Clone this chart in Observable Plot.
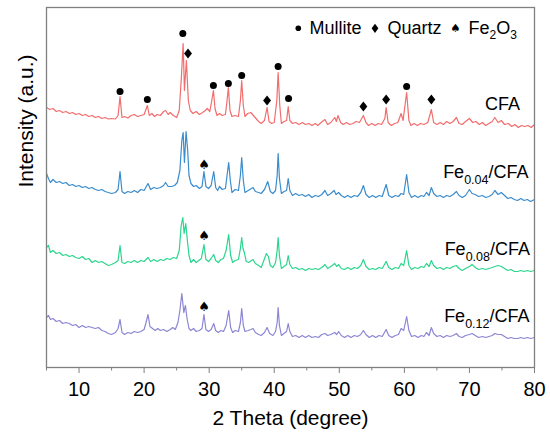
<!DOCTYPE html>
<html><head><meta charset="utf-8">
<script src="https://cdn.jsdelivr.net/npm/d3@7"></script>
<script src="https://cdn.jsdelivr.net/npm/@observablehq/plot@0.6"></script>
<style>body{margin:0;background:#fff} #chart{width:550px;height:442px}</style>
</head><body><div id="chart"></div>
<script>
// ---- data: [2theta (deg), intensity (a.u., stacked offset)] ----
const cfa = [[5.0,261],[5.5,259],[6.0,260],[6.5,257],[7.0,258],[7.5,256],[8.0,257],[8.5,255],[9.0,256],[9.5,254],[10.0,255],[10.5,253],[11.0,254],[11.5,252],[12.0,253],[12.5,251],[13.0,252],[13.5,250],[14.0,251],[14.5,249.5],[15.0,250],[15.6,249.5],[16.0,253],[16.3,272],[16.6,251],[17.0,252],[17.5,250.5],[18.0,253],[18.5,254],[19.0,252],[19.5,253],[20.0,254],[20.5,263],[20.8,253],[21.2,255],[21.6,252],[22.0,254],[22.5,253],[23.0,257],[23.3,258],[23.7,254],[24.0,256],[24.5,253],[25.0,251],[25.4,258],[25.7,288],[26.0,325],[26.2,278],[26.5,308],[26.8,268],[27.1,258],[27.5,255],[28.0,257],[28.5,254],[29.0,256],[29.4,258],[29.7,260],[30.1,257],[30.4,268],[30.65,278],[30.9,260],[31.2,253],[31.6,255],[32.0,253],[32.5,254],[32.75,268],[32.95,281],[33.2,258],[33.5,252],[34.0,253],[34.5,252],[34.8,268],[35.0,288],[35.25,263],[35.5,252],[35.9,255],[36.4,256],[36.8,253],[37.2,250],[37.6,247],[38.0,245],[38.5,248],[38.9,261],[39.2,247],[39.6,245],[40.0,246],[40.4,268],[40.6,296],[40.85,263],[41.1,245],[41.5,247],[41.9,248],[42.15,262],[42.4,248],[42.8,245],[43.3,246],[43.8,244],[44.3,246],[44.8,244],[45.3,245],[45.8,243],[46.3,245],[46.7,243],[47.2,246],[47.8,249],[48.2,244],[48.7,246],[49.3,251],[49.55,247],[49.8,253],[50.2,246],[50.6,244],[51.1,246],[51.6,244],[52.1,245],[52.6,247],[53.1,246],[53.7,253],[54.1,246],[54.5,243],[55.0,245],[55.5,243],[56.0,245],[56.5,244],[57.0,250],[57.2,261],[57.5,246],[58.0,243],[58.5,245],[59.0,246],[59.5,255],[59.8,248],[60.35,276],[60.7,248],[61.0,243],[61.5,245],[62.0,243],[62.5,245],[63.0,244],[63.6,246],[64.15,259],[64.5,246],[65.0,244],[65.5,246],[66.0,244],[66.5,247],[67.0,245],[67.5,247],[68.0,251],[68.4,245],[68.9,244],[69.4,247],[70.0,250],[70.5,246],[71.0,247],[71.5,244],[72.0,246],[72.5,243],[73.0,245],[73.5,247],[73.9,251],[74.4,246],[74.9,248],[75.4,244],[76.0,245],[76.5,242],[77.0,244],[77.5,241],[78.0,243],[78.5,242],[79.0,243],[79.5,241],[80.0,244]];

const fe004 = [[5.0,195],[5.3,190],[5.6,186],[6.0,189],[6.5,186],[7.0,187],[7.5,185],[8.0,186],[8.5,183],[9.0,184],[9.5,182],[10.0,183],[10.5,181],[11.0,182],[11.5,180],[12.0,181],[12.5,179],[13.0,178],[13.5,179],[14.0,177],[14.5,176],[15.0,175],[15.6,176],[16.0,179],[16.3,197],[16.6,177],[17.0,175],[17.5,177],[18.0,176],[18.5,178],[19.0,176],[19.5,179],[20.0,178],[20.6,185],[21.0,179],[21.5,181],[22.0,180],[22.5,181],[23.0,183],[23.3,186],[23.7,182],[24.2,182],[24.7,183],[25.1,186],[25.5,198],[25.8,228],[26.0,236],[26.2,206],[26.45,237],[26.7,218],[26.9,193],[27.2,185],[27.6,182],[28.0,183],[28.5,180],[28.9,182],[29.2,197],[29.5,182],[29.9,180],[30.3,183],[30.7,197],[31.0,181],[31.3,178],[31.6,182],[32.0,179],[32.5,180],[32.75,193],[33.0,206],[33.25,188],[33.5,176],[34.0,179],[34.5,178],[34.8,193],[35.0,211],[35.25,188],[35.5,176],[36.0,178],[36.5,180],[36.75,181],[37.1,177],[37.6,176],[38.0,175],[38.5,179],[39.0,187],[39.4,177],[39.8,175],[40.2,178],[40.45,193],[40.6,215],[40.8,190],[41.1,175],[41.5,177],[41.9,178],[42.15,190],[42.4,178],[42.8,173],[43.3,175],[43.8,173],[44.3,174],[44.8,172],[45.3,174],[45.8,171],[46.3,173],[46.8,172],[47.3,174],[47.8,178],[48.2,173],[48.7,175],[49.2,178],[49.5,174],[49.9,176],[50.3,173],[50.8,171],[51.3,173],[51.8,171],[52.3,173],[52.8,172],[53.3,176],[53.7,183],[54.1,174],[54.6,171],[55.1,173],[55.6,171],[56.1,173],[56.6,172],[57.2,184],[57.6,173],[58.1,171],[58.6,173],[59.1,172],[59.5,175],[59.9,174],[60.35,194],[60.7,176],[61.1,171],[61.6,173],[62.1,171],[62.6,173],[63.0,172],[63.4,176],[63.8,173],[64.15,181],[64.5,175],[65.0,172],[65.5,173],[66.0,171],[66.5,173],[67.0,172],[67.5,174],[68.0,177],[68.4,173],[68.9,171],[69.4,173],[70.0,179],[70.4,175],[70.9,174],[71.4,172],[72.0,173],[72.5,171],[73.0,172],[73.5,174],[73.9,178],[74.4,174],[74.9,176],[75.4,173],[75.9,170],[76.4,171],[76.9,169],[77.4,168],[77.9,170],[78.4,168],[78.9,169],[79.4,167],[80.0,169]];

const fe008 = [[5.0,121],[5.3,123],[5.6,116],[6.0,118],[6.5,115],[7.0,116],[7.5,113],[8.0,114],[8.5,112],[9.0,113],[9.5,111],[10.0,110],[10.5,112],[11.0,109],[11.5,110],[12.0,106],[12.5,108],[13.0,106],[13.5,107],[14.0,105],[14.5,103],[15.0,104],[15.6,106],[16.0,108],[16.3,123],[16.6,106],[17.0,105],[17.5,107],[18.0,106],[18.5,108],[19.0,106],[19.5,108],[20.0,107],[20.6,111],[21.0,107],[21.5,109],[22.0,107],[22.5,109],[23.0,108],[23.5,110],[24.0,109],[24.5,111],[25.0,110],[25.4,118],[25.7,143],[25.95,151],[26.15,135],[26.4,145],[26.65,128],[26.9,113],[27.2,106],[27.6,109],[28.0,106],[28.4,108],[28.8,110],[29.2,124],[29.5,109],[29.9,107],[30.3,110],[30.7,114],[31.0,108],[31.4,106],[31.8,109],[32.2,110],[32.6,118],[33.0,134],[33.3,113],[33.6,106],[34.0,108],[34.5,109],[34.8,120],[35.0,131],[35.2,120],[35.4,116],[35.7,107],[36.1,106],[36.5,108],[36.75,109],[37.1,105],[37.6,103],[38.0,101],[38.4,108],[38.8,115],[39.1,112],[39.4,103],[39.8,101],[40.2,106],[40.45,118],[40.6,131],[40.8,113],[41.1,100],[41.5,102],[41.9,104],[42.15,113],[42.4,104],[42.8,100],[43.3,101],[43.8,99],[44.3,100],[44.8,98],[45.3,100],[45.8,99],[46.3,100],[46.8,99],[47.3,101],[47.8,104],[48.2,100],[48.7,102],[49.3,105],[49.6,102],[49.9,104],[50.3,100],[50.8,99],[51.3,101],[51.8,99],[52.3,101],[52.8,100],[53.3,103],[53.7,109],[54.1,102],[54.6,99],[55.1,100],[55.6,99],[56.1,101],[56.6,100],[57.2,107],[57.6,101],[58.1,99],[58.6,101],[59.1,100],[59.5,105],[59.9,103],[60.35,118],[60.7,103],[61.1,99],[61.6,101],[62.1,100],[62.6,102],[63.0,101],[63.4,105],[63.8,102],[64.15,108],[64.5,103],[65.0,100],[65.5,101],[66.0,99],[66.5,101],[67.0,100],[67.5,102],[68.0,103],[68.4,100],[68.9,98],[69.4,100],[70.0,102],[70.4,104],[70.9,101],[71.4,99],[72.0,100],[72.5,99],[73.0,100],[73.5,101],[73.9,102],[74.4,103],[74.9,102],[75.4,100],[75.9,98],[76.4,99],[76.9,97],[77.4,97],[77.9,98],[78.4,97],[78.9,98],[79.4,97],[80.0,98]];

const fe012 = [[5.0,51],[5.3,53],[5.6,49],[6.0,50],[6.5,47],[7.0,48],[7.5,45],[8.0,46],[8.5,45],[9.0,43],[9.5,44],[10.0,41],[10.5,43],[11.0,41],[11.5,42],[12.0,41],[12.5,40],[13.0,41],[13.5,38],[14.0,37],[14.5,35],[15.0,34],[15.6,36],[16.0,40],[16.3,49],[16.6,36],[17.0,34],[17.5,36],[18.0,35],[18.5,37],[19.0,36],[19.5,37],[20.0,39],[20.3,46],[20.6,54],[20.9,42],[21.3,40],[21.7,38],[22.1,40],[22.5,38],[23.0,39],[23.5,37],[24.0,39],[24.4,41],[24.8,39],[25.2,46],[25.5,58],[25.8,75],[26.1,56],[26.35,63],[26.6,50],[26.9,40],[27.2,38],[27.6,40],[28.0,37],[28.5,38],[28.9,40],[29.2,54],[29.5,39],[29.9,37],[30.3,39],[30.7,45],[31.0,38],[31.4,36],[31.8,38],[32.2,37],[32.6,43],[33.0,58],[33.3,41],[33.6,36],[34.0,38],[34.5,37],[34.8,46],[35.0,60],[35.25,43],[35.5,37],[36.0,38],[36.4,39],[36.75,40],[37.1,36],[37.6,34],[38.0,33],[38.5,36],[38.9,41],[39.3,35],[39.8,33],[40.2,37],[40.45,46],[40.6,61],[40.8,43],[41.1,33],[41.5,35],[41.9,37],[42.15,45],[42.4,37],[42.8,32],[43.3,33],[43.8,31],[44.3,33],[44.8,31],[45.3,33],[45.8,31],[46.3,32],[46.8,31],[47.3,34],[47.8,35],[48.2,33],[48.7,34],[49.3,36],[49.6,34],[49.9,37],[50.3,33],[50.8,31],[51.3,33],[51.8,31],[52.3,33],[52.8,32],[53.3,34],[53.7,38],[54.1,34],[54.6,31],[55.1,33],[55.6,31],[56.1,33],[56.6,32],[57.2,39],[57.6,33],[58.1,31],[58.6,33],[59.1,34],[59.5,40],[59.9,38],[60.35,52],[60.7,38],[61.1,32],[61.6,33],[62.1,31],[62.6,33],[63.0,32],[63.4,36],[63.8,33],[64.15,41],[64.5,35],[65.0,32],[65.5,33],[66.0,31],[66.5,33],[67.0,32],[67.5,33],[68.0,35],[68.4,32],[68.9,31],[69.4,33],[70.0,34],[70.4,35],[70.9,33],[71.4,31],[72.0,32],[72.5,31],[73.0,32],[73.5,33],[73.9,35],[74.4,34],[74.9,34],[75.4,32],[75.9,30],[76.4,31],[76.9,30],[77.4,30],[77.9,31],[78.4,30],[78.9,31],[79.4,30],[80.0,31]];

// phase markers [2theta, height]
const mulliteMarks = [[16.3,277],[20.5,269],[25.95,335],[30.65,283],[32.95,285],[35.0,293],[40.6,302],[42.2,270],[60.35,282]];
const quartzMarks = [[26.75,315],[38.9,268],[53.7,262],[57.2,269],[64.15,269]];
const fe2o3Marks = [[29.2,204],[29.2,133],[29.2,62]];

const xTicks = [10, 20, 30, 40, 50, 60, 70, 80];
const xMinorTicks = [5, 15, 25, 35, 45, 55, 65, 75];
const seriesColors = ["#f26d6d", "#3a8ccc", "#2ad68e", "#8c86d4"];

const diamondSym = {
  draw(context, size) {
    const h = Math.sqrt(size) * 0.62, w = h * 0.8;
    context.moveTo(0, -h); context.lineTo(w, 0); context.lineTo(0, h); context.lineTo(-w, 0); context.closePath();
  }
};

const font = "'Liberation Sans', Arial, Helvetica, sans-serif";
const lineOpts = (c) => ({x: d => d[0], y: d => d[1], stroke: c, strokeWidth: 1.2, strokeLinejoin: "round"});

const plot = Plot.plot({
  width: 550, height: 442,
  marginLeft: 46, marginRight: 16, marginTop: 7, marginBottom: 75,
  x: {domain: [5, 80]},
  y: {domain: [1, 361], axis: null},
  style: {fontFamily: font, fontSize: "20px", background: "white", color: "black"},
  marks: [
    Plot.line(cfa, lineOpts(seriesColors[0])),
    Plot.line(fe004, lineOpts(seriesColors[1])),
    Plot.line(fe008, lineOpts(seriesColors[2])),
    Plot.line(fe012, lineOpts(seriesColors[3])),
    Plot.dot(mulliteMarks, {x: d => d[0], y: d => d[1], r: 3.5, fill: "black", stroke: null}),
    Plot.dot(quartzMarks, {x: d => d[0], y: d => d[1], r: 4.5, symbol: diamondSym, fill: "black", stroke: null}),
    Plot.text(fe2o3Marks, {x: d => d[0], y: d => d[1], text: () => "\u2660", fontSize: 13, fontFamily: "DejaVu Sans", fill: "black", lineAnchor: "middle"}),
    Plot.frame({stroke: "#808080", strokeWidth: 1.3}),
    Plot.axisX({ticks: xTicks, tickSize: 6, tickPadding: 8, tickFormat: d => String(d), label: null, stroke: "#808080", fill: "black", fontSize: 20}),
    Plot.axisX({ticks: xMinorTicks, tickSize: 3.5, tickFormat: () => "", label: null, stroke: "#808080"}),
    Plot.text(["2 Theta (degree)"], {frameAnchor: "bottom", dy: 57, fontSize: 21, fill: "black"}),
    Plot.text(["Intensity (a.u.)"], {frameAnchor: "left", rotate: -90, dx: -20.5, fontSize: 21, fill: "black"})
  ]
});

document.getElementById("chart").appendChild(plot);

// ---- legend and series labels (with subscripts) ----
const svg = d3.select(plot);
const g = svg.append("g").attr("font-family", font).attr("fill", "black").attr("text-anchor", "start");

// legend
g.append("circle").attr("cx", 298.3).attr("cy", 28.3).attr("r", 2.8);
g.append("text").attr("x", 309.5).attr("y", 34).attr("font-size", 18).text("Mullite");
g.append("path").attr("transform", "translate(375,28.3)").attr("d", "M0,-4.6L3.4,0L0,4.6L-3.4,0Z");
g.append("text").attr("x", 387.5).attr("y", 34).attr("font-size", 18).text("Quartz");
g.append("text").attr("x", 455.5).attr("y", 31.5).attr("font-size", 11.5).attr("font-family", "DejaVu Sans").attr("text-anchor", "middle").text("\u2660");
const fe2o3 = g.append("text").attr("x", 468.5).attr("y", 34).attr("font-size", 18);
fe2o3.append("tspan").text("Fe");
fe2o3.append("tspan").attr("dy", 5).attr("font-size", 12).text("2");
fe2o3.append("tspan").attr("dy", -5).text("O");
fe2o3.append("tspan").attr("dy", 5).attr("font-size", 12).text("3");

// series labels
const labelDefs = [
  {end: 520, base: 110, sub: null},
  {end: 528.5, base: 178.3, sub: "0.04"},
  {end: 530, base: 255, sub: "0.08"},
  {end: 529.5, base: 321.7, sub: "0.12"}
];
labelDefs.forEach(l => {
  const t = g.append("text").attr("x", l.end).attr("y", l.base).attr("font-size", 18).attr("text-anchor", "end");
  if (l.sub === null) {
    t.text("CFA");
  } else {
    t.append("tspan").text("Fe");
    t.append("tspan").attr("dy", 6).attr("font-size", 12.5).text(l.sub);
    t.append("tspan").attr("dy", -6).text("/CFA");
  }
});
</script>
</body></html>
